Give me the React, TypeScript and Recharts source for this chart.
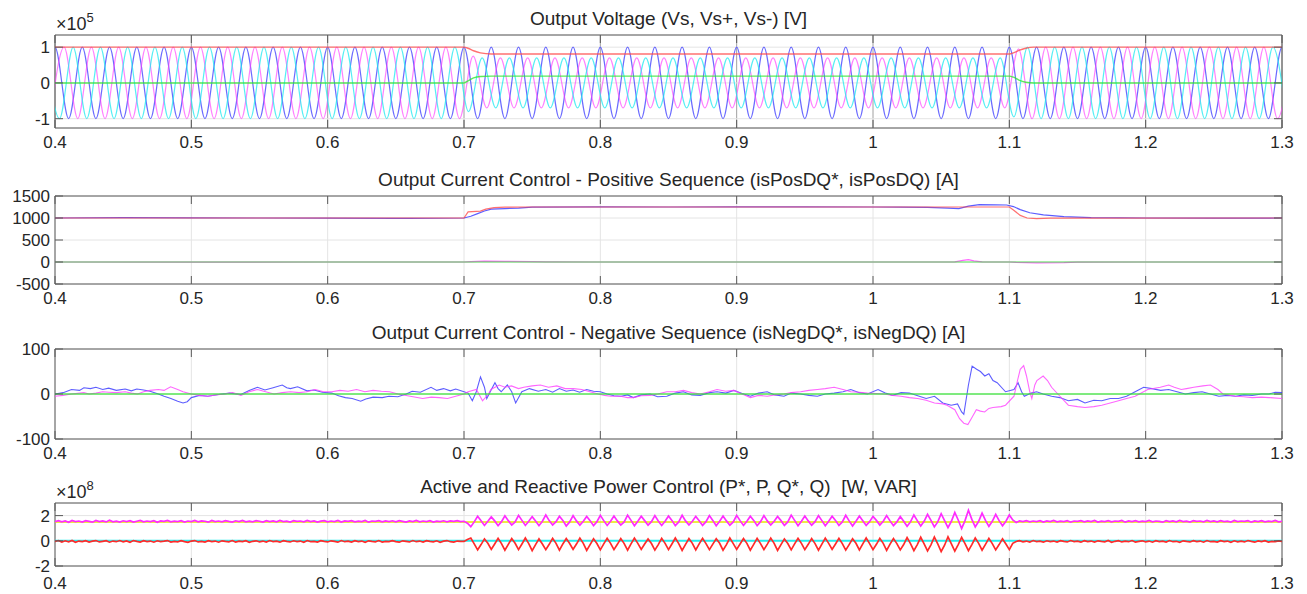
import { LineChart, Line, XAxis, YAxis, CartesianGrid, ReferenceArea } from 'recharts';

// ---- shared axis values ----
const xTicks = [0.4, 0.5, 0.6, 0.7, 0.8, 0.9, 1, 1.1, 1.2, 1.3];
const vsTicks = [-1, 0, 1];
const posTicks = [-500, 0, 500, 1000, 1500];
const negTicks = [-100, 0, 100];
const pqTicks = [-2, 0, 2];

// ---- Output voltage (x1e5), extrema of each phase, one every half cycle ----
const halfCycle = 0.01;
const vsAStart = 0.39;
const vsBStart = 0.3967;
const vsCStart = 0.3933;
const vsA = [
  -1, 1, -1, 1, -1, 1, -1, 1, -1, 1,
  -1, 1, -1, 1, -1, 1, -1, 1, -1, 1,
  -1, 1, -1, 1, -1, 1, -1, 1, -1, 1,
  -1, 1, -1, 1, -1, 1, -1, 1, -1, 1,
  -1, 1, -1, 1, -1, 1, -1, 1, -1, 1,
  -1, 1, -1, 1, -1, 1, -1, 1, -1, 1,
  -1, 1, -1, 1, -1, 1, -1, 1, -1, 1,
  -1, 1, -1, 1, -1, 1, -1, 1, -1, 1,
  -1, 1, -1, 1, -1, 1, -1, 1, -1, 1,
  -1, 1, -1,
];
const vsB = [
  -1, 1, -1, 1, -1, 1, -1, 1, -1, 1,
  -1, 1, -1, 1, -1, 1, -1, 1, -1, 1,
  -1, 1, -1, 1, -1, 1, -1, 1, -1, 1,
  -1, 0.75, -0.7, 0.7, -0.7, 0.7, -0.7, 0.7, -0.7, 0.7,
  -0.7, 0.7, -0.7, 0.7, -0.7, 0.7, -0.7, 0.7, -0.7, 0.7,
  -0.7, 0.7, -0.7, 0.7, -0.7, 0.7, -0.7, 0.7, -0.7, 0.7,
  -0.7, 0.7, -0.7, 0.7, -0.7, 0.7, -0.7, 0.7, -0.7, 0.7,
  -0.7, 0.95, -1, 1, -1, 1, -1, 1, -1, 1,
  -1, 1, -1, 1, -1, 1, -1, 1, -1, 1,
  -1, 1,
];
const vsC = [
  1, -1, 1, -1, 1, -1, 1, -1, 1, -1,
  1, -1, 1, -1, 1, -1, 1, -1, 1, -1,
  1, -1, 1, -1, 1, -1, 1, -1, 1, -1,
  1, -0.8, 0.7, -0.7, 0.7, -0.7, 0.7, -0.7, 0.7, -0.7,
  0.7, -0.7, 0.7, -0.7, 0.7, -0.7, 0.7, -0.7, 0.7, -0.7,
  0.7, -0.7, 0.7, -0.7, 0.7, -0.7, 0.7, -0.7, 0.7, -0.7,
  0.7, -0.7, 0.7, -0.7, 0.7, -0.7, 0.7, -0.7, 0.7, -0.7,
  0.7, -0.95, 1, -1, 1, -1, 1, -1, 1, -1,
  1, -1, 1, -1, 1, -1, 1, -1, 1, -1,
  1, -1,
];
const vsSeqTimes = [0.4, 0.7, 0.703, 0.707, 0.712, 0.72, 1.1, 1.103, 1.107, 1.112, 1.118, 1.3];
const vsPos = [1, 1, 0.97, 0.9, 0.84, 0.81, 0.81, 0.84, 0.91, 0.97, 1, 1];
const vsNeg = [0, 0, 0.06, 0.14, 0.18, 0.19, 0.19, 0.16, 0.08, 0.02, 0, 0];

// ---- Positive sequence current [A] ----
const posRefDTimes = [0.4, 0.7, 0.703, 0.712, 0.716, 0.722, 0.73, 0.75, 1.1, 1.103, 1.108, 1.113, 1.12, 1.13, 1.3];
const posRefD = [1000, 1000, 1140, 1155, 1200, 1235, 1245, 1250, 1250, 1180, 1060, 1000, 985, 995, 1000];
const posDTimes = [
  0.4, 0.45, 0.5, 0.55, 0.6, 0.65, 0.66, 0.7, 0.705, 0.71, 0.715, 0.72, 0.73, 0.74, 0.75, 0.8, 0.85, 0.9,
  0.95, 1.0, 1.02, 1.04, 1.055, 1.063, 1.07, 1.078, 1.09, 1.098, 1.103, 1.108, 1.115, 1.125, 1.14, 1.16,
  1.2, 1.25, 1.3,
];
const posD = [
  1000, 1008, 1002, 1000, 997, 993, 990, 1000, 1040, 1100, 1160, 1200, 1215, 1225, 1245, 1252, 1250, 1255,
  1252, 1250, 1247, 1240, 1225, 1212, 1270, 1305, 1300, 1295, 1260, 1190, 1120, 1070, 1030, 1010,
  1000, 995, 1000,
];
const posQTimes = [
  0.4, 0.5, 0.6, 0.7, 0.705, 0.715, 0.73, 0.75, 0.76, 0.8, 1.0, 1.06, 1.066, 1.07, 1.074, 1.08, 1.1,
  1.105, 1.12, 1.14, 1.15, 1.2, 1.3,
];
const posQ = [0, -3, 0, 0, 10, 18, 15, 10, 3, 0, 0, 5, 35, 55, 25, 5, 0, -10, -20, -15, -5, 0, 0];
const posRefQTimes = [0.4, 1.3];
const posRefQ = [0, 0];

// ---- Negative sequence current [A], (time, value) ----
const negD: [number, number][] = [
  [0.4, 0], [0.406, 3], [0.4121, 10], [0.418, 8], [0.4212, 14], [0.426, 12], [0.43, 15], [0.435, 10],
  [0.4394, 13], [0.445, 8], [0.4515, 11], [0.456, 7], [0.46, 11], [0.465, 9], [0.4697, 6], [0.4758, 0],
  [0.48, -5], [0.485, -10], [0.49, -16], [0.4939, -20], [0.497, -17], [0.5, -8], [0.506, -3], [0.5121, -5],
  [0.52, -1], [0.528, 2], [0.5364, -1], [0.5424, 8], [0.5485, 15], [0.554, 9], [0.56, 14], [0.5667, 20],
  [0.57, 14], [0.5727, 12], [0.578, 16], [0.5848, 7], [0.59, 9], [0.596, 4], [0.603, 2], [0.608, -4],
  [0.613, -8], [0.618, -10], [0.6242, -16], [0.628, -11], [0.6333, -7], [0.64, -8], [0.645, -5], [0.6515, -6],
  [0.6576, 0], [0.662, 6], [0.668, 4], [0.6758, 15], [0.68, 8], [0.685, 12], [0.69, 7], [0.6939, 11],
  [0.7, 5], [0.703, 2], [0.7061, -15], [0.709, 5], [0.7121, 38], [0.715, 15], [0.7167, -10], [0.7197, 8],
  [0.7227, 25], [0.725, 12], [0.7273, 5], [0.73, 14], [0.7318, 20], [0.735, 5], [0.7379, -20], [0.7424, 5],
  [0.748, 12], [0.7545, 6], [0.76, 10], [0.765, 4], [0.77, 12], [0.775, 6], [0.78, 9], [0.7848, 4],
  [0.79, 10], [0.795, 6], [0.8, 5], [0.805, 0], [0.81, -4], [0.8152, -5], [0.82, -2], [0.8242, -8],
  [0.83, -2], [0.8365, 0], [0.842, -6], [0.8488, -5], [0.855, 2], [0.861, 5], [0.867, -2], [0.8733, -3],
  [0.88, 3], [0.8856, 5], [0.892, 2], [0.8979, 8], [0.904, 1], [0.9101, -5], [0.916, 2], [0.9224, 5],
  [0.928, -2], [0.9347, -5], [0.94, 2], [0.9469, 0], [0.953, -3], [0.9592, -5], [0.965, 0], [0.9715, 2],
  [0.978, 5], [0.9837, 10], [0.99, 3], [0.996, 0], [1.0037, 10], [1.009, 2], [1.0144, -3], [1.0206, 3],
  [1.0267, 2], [1.0328, -4], [1.039, -10], [1.0451, -5], [1.0512, -20], [1.0574, -25], [1.062, -22], [1.065, -40],
  [1.0666, -45], [1.07, 20], [1.0727, 62], [1.076, 55], [1.0788, 50], [1.082, 40], [1.085, 45], [1.088, 30],
  [1.0911, 25], [1.0972, 5], [1.1034, 10], [1.1064, 25], [1.109, 5], [1.111, -5], [1.116, 2], [1.12, 5],
  [1.1248, 0], [1.131, -5], [1.137, -8], [1.1433, -15], [1.15, -12], [1.1555, -20], [1.162, -14], [1.1678, -15],
  [1.174, -10], [1.1801, -10], [1.186, -5], [1.1923, 5], [1.1985, 15], [1.2046, 12], [1.211, 8], [1.2169, 10],
  [1.223, 5], [1.2291, 0], [1.2353, 3], [1.2414, 5], [1.2475, 0], [1.2537, -5], [1.26, -3], [1.266, -5],
  [1.272, -2], [1.2782, -3], [1.285, 0], [1.2905, 0], [1.295, 4], [1.3, 3],
];
const negQ: [number, number][] = [
  [0.4, -5], [0.406, -3], [0.4121, 0], [0.418, 2], [0.4212, 3], [0.425, 0], [0.43, 2], [0.435, 5],
  [0.4394, 4], [0.445, 3], [0.4515, 5], [0.456, 2], [0.4606, 0], [0.465, 5], [0.4697, 8], [0.4758, 10],
  [0.48, 8], [0.4848, 16], [0.49, 10], [0.4939, 5], [0.5, 0], [0.506, -3], [0.5121, -5], [0.518, -2],
  [0.5242, 0], [0.5303, 3], [0.5364, -3], [0.5424, 5], [0.5485, 10], [0.5545, 5], [0.5606, 0], [0.5667, 3],
  [0.5727, 5], [0.579, 3], [0.5848, 5], [0.5909, 10], [0.597, 5], [0.603, 5], [0.609, 8], [0.615, 6],
  [0.6212, 10], [0.6273, 5], [0.6333, 8], [0.6394, 6], [0.6455, 5], [0.6515, 0], [0.6606, -5], [0.6697, -10],
  [0.676, -7], [0.6818, -8], [0.6879, -10], [0.6939, -5], [0.7, 0], [0.703, 5], [0.7091, 10], [0.7136, -15],
  [0.718, 0], [0.7197, 10], [0.7258, 20], [0.73, 15], [0.7348, 18], [0.74, 12], [0.7439, 15], [0.75, 18],
  [0.756, 20], [0.762, 15], [0.7681, 18], [0.7742, 12], [0.7803, 12], [0.7864, 10], [0.7924, 5], [0.7985, 0],
  [0.803, -3], [0.8076, -5], [0.815, -5], [0.82, -8], [0.8242, -8], [0.83, -4], [0.8365, -3], [0.842, 0],
  [0.8488, 5], [0.855, 5], [0.861, 8], [0.867, 3], [0.8733, 0], [0.88, 5], [0.8856, 10], [0.892, 6],
  [0.8979, 8], [0.904, 0], [0.9101, -8], [0.916, -3], [0.9224, -5], [0.928, -2], [0.9347, 0], [0.94, 3],
  [0.9469, 5], [0.953, 8], [0.9592, 10], [0.965, 12], [0.9715, 15], [0.978, 10], [0.9837, 5], [0.99, 4],
  [0.996, 2], [1.0083, 0], [1.0144, -3], [1.0206, -5], [1.0267, -8], [1.0328, -10], [1.039, -14], [1.0451, -20],
  [1.0512, -22], [1.0543, -25], [1.06, -35], [1.0635, -55], [1.0666, -65], [1.0696, -68], [1.073, -50], [1.0758, -35],
  [1.0788, -38], [1.0819, -40], [1.085, -32], [1.088, -30], [1.094, -28], [1.0972, -25], [1.1034, -5], [1.106, 30],
  [1.108, 55], [1.1105, 63], [1.1126, 40], [1.115, 5], [1.1165, -10], [1.1187, 20], [1.1202, 30], [1.1248, 40],
  [1.128, 30], [1.131, 15], [1.1371, -5], [1.1433, -25], [1.15, -28], [1.1555, -30], [1.162, -28], [1.1678, -25],
  [1.174, -20], [1.1801, -15], [1.186, -10], [1.1923, -5], [1.2015, 10], [1.2107, 15], [1.2169, 20], [1.221, 15],
  [1.2261, 10], [1.23, 12], [1.2353, 15], [1.242, 18], [1.2475, 20], [1.253, 10], [1.2567, 0], [1.266, -5],
  [1.272, -6], [1.2782, -8], [1.285, -7], [1.2905, -8], [1.3, -10],
];
const negRefTimes = [0.4, 1.3];
const negRef = [0, 0];

// ---- Active / reactive power (x1e8), sampled every 2.5 ms ----
const pqStep = 0.0025;
const pMeas = [
  1.52, 1.6, 1.5, 1.58, 1.47, 1.62, 1.53, 1.57, 1.49, 1.6, 1.54, 1.48, 1.61, 1.52, 1.58, 1.5, 1.63, 1.51, 1.56, 1.49,
  1.59, 1.52, 1.6, 1.48, 1.55, 1.62, 1.5, 1.57, 1.53, 1.6, 1.47, 1.58, 1.54, 1.61, 1.5, 1.56, 1.52, 1.6, 1.49, 1.57,
  1.53, 1.61, 1.5, 1.58, 1.55, 1.48, 1.62, 1.52, 1.57, 1.5, 1.6, 1.54, 1.49, 1.59, 1.53, 1.61, 1.51, 1.56, 1.5, 1.6,
  1.55, 1.48, 1.6, 1.53, 1.58, 1.5, 1.62, 1.52, 1.56, 1.49, 1.6, 1.54, 1.57, 1.5, 1.61, 1.52, 1.58, 1.48, 1.56, 1.6,
  1.51, 1.57, 1.53, 1.62, 1.49, 1.58, 1.54, 1.6, 1.5, 1.56, 1.52, 1.61, 1.48, 1.57, 1.55, 1.6, 1.5, 1.58, 1.53, 1.59,
  1.5, 1.6, 1.54, 1.48, 1.58, 1.52, 1.62, 1.5, 1.57, 1.53, 1.6, 1.49, 1.56, 1.52, 1.59, 1.5, 1.58, 1.54, 1.6, 1.52,
  1.55, 1.4, 1.12, 1.5, 1.95, 1.6, 1.22, 1.55, 1.9, 1.58, 1.2, 1.52, 1.98, 1.6, 1.25, 1.5, 2.02, 1.62, 1.22, 1.55,
  1.92, 1.58, 1.2, 1.55, 2.05, 1.6, 1.25, 1.52, 1.95, 1.62, 1.18, 1.5, 2.0, 1.58, 1.24, 1.55, 1.93, 1.6, 1.2, 1.52,
  2.02, 1.6, 1.22, 1.55, 1.96, 1.58, 1.25, 1.5, 2.04, 1.62, 1.2, 1.55, 1.95, 1.6, 1.24, 1.52, 2.0, 1.58, 1.22, 1.55,
  1.97, 1.62, 1.2, 1.5, 2.03, 1.58, 1.25, 1.55, 1.94, 1.6, 1.22, 1.52, 2.0, 1.62, 1.2, 1.55, 1.96, 1.58, 1.24, 1.5,
  2.02, 1.6, 1.22, 1.55, 1.95, 1.62, 1.2, 1.52, 2.0, 1.58, 1.25, 1.55, 1.93, 1.6, 1.22, 1.5, 2.04, 1.62, 1.2, 1.55,
  1.96, 1.58, 1.24, 1.52, 2.0, 1.6, 1.2, 1.55, 1.95, 1.62, 1.22, 1.5, 2.02, 1.58, 1.18, 1.55, 1.97, 1.6, 1.22, 1.52,
  1.94, 1.62, 1.25, 1.55, 2.0, 1.58, 1.2, 1.5, 1.92, 1.55, 1.15, 1.5, 2.05, 1.6, 1.18, 1.55, 2.1, 1.62, 1.1, 1.5,
  2.15, 1.6, 1.05, 1.55, 2.25, 1.65, 0.98, 1.6, 2.42, 1.7, 1.1, 1.55, 2.2, 1.62, 1.15, 1.55, 2.1, 1.6, 1.2, 1.55,
  2.05, 1.65, 1.45, 1.58, 1.52, 1.6, 1.5, 1.57, 1.53, 1.6, 1.49, 1.58, 1.52, 1.61, 1.5, 1.56, 1.53, 1.6, 1.48, 1.57,
  1.54, 1.6, 1.5, 1.58, 1.52, 1.62, 1.49, 1.56, 1.53, 1.6, 1.5, 1.57, 1.54, 1.61, 1.48, 1.58, 1.52, 1.6, 1.5, 1.56,
  1.53, 1.61, 1.5, 1.57, 1.54, 1.48, 1.6, 1.52, 1.58, 1.5, 1.62, 1.53, 1.56, 1.49, 1.6, 1.54, 1.57, 1.5, 1.61, 1.52,
  1.58, 1.5, 1.6, 1.53, 1.56, 1.49, 1.62, 1.52, 1.57, 1.54, 1.6, 1.48, 1.58, 1.53, 1.6, 1.5, 1.56, 1.52, 1.61, 1.5,
  1.55,
];
const qMeas = [
  -0.05, 0.02, -0.1, 0, -0.08, 0.03, -0.12, -0.02, -0.06, 0.01, -0.1, -0.03, 0.02, -0.09, -0.04, 0.01, -0.11, -0.02, -0.07, 0.02,
  -0.08, -0.01, -0.12, 0.02, -0.05, -0.1, 0.01, -0.06, -0.02, -0.11, 0, -0.07, -0.03, 0.02, -0.1, -0.04, -0.08, 0.01, -0.06, -0.12,
  -0.02, 0.02, -0.09, -0.04, -0.1, 0.01, -0.06, -0.02, -0.11, 0, -0.05, -0.08, 0.02, -0.1, -0.03, -0.07, 0.01, -0.12, -0.04, 0,
  -0.08, -0.02, -0.1, 0.02, -0.06, -0.03, -0.11, 0.01, -0.05, -0.09, 0, -0.07, -0.02, -0.12, 0.02, -0.06, -0.04, -0.1, 0.01, -0.05,
  -0.09, 0, -0.04, -0.11, 0.02, -0.07, -0.03, -0.1, 0.01, -0.06, -0.02, -0.12, 0, -0.05, -0.08, 0.02, -0.1, -0.04, -0.07, 0.01,
  -0.06, -0.11, 0, -0.04, -0.09, 0.02, -0.07, -0.02, -0.1, 0.01, -0.05, -0.08, 0, -0.12, -0.03, 0.02, -0.07, -0.1, -0.02, -0.05,
  -0.05, 0.1, 0.22, -0.25, -0.72, -0.3, 0.15, -0.2, -0.68, -0.25, 0.2, -0.22, -0.75, -0.28, 0.18, -0.2, -0.7, -0.25, 0.22, -0.22,
  -0.78, -0.3, 0.15, -0.25, -0.7, -0.28, 0.2, -0.2, -0.74, -0.25, 0.18, -0.22, -0.68, -0.26, 0.22, -0.2, -0.76, -0.3, 0.16, -0.22,
  -0.72, -0.25, 0.2, -0.2, -0.7, -0.28, 0.18, -0.22, -0.75, -0.25, 0.22, -0.2, -0.68, -0.26, 0.15, -0.22, -0.74, -0.3, 0.2, -0.2,
  -0.7, -0.25, 0.22, -0.22, -0.76, -0.28, 0.18, -0.2, -0.72, -0.25, 0.2, -0.22, -0.7, -0.26, 0.16, -0.2, -0.75, -0.3, 0.22, -0.22,
  -0.68, -0.25, 0.18, -0.2, -0.74, -0.28, 0.2, -0.22, -0.7, -0.26, 0.22, -0.2, -0.76, -0.3, 0.15, -0.22, -0.72, -0.25, 0.2, -0.2,
  -0.7, -0.28, 0.18, -0.22, -0.75, -0.26, 0.22, -0.2, -0.68, -0.25, 0.2, -0.22, -0.74, -0.3, 0.16, -0.2, -0.72, -0.25, 0.22, -0.22,
  -0.7, -0.28, 0.2, -0.2, -0.76, -0.26, 0.18, -0.22, -0.72, -0.3, 0.25, -0.22, -0.78, -0.3, 0.28, -0.25, -0.8, -0.32, 0.3, -0.25,
  -0.85, -0.35, 0.32, -0.25, -0.82, -0.3, 0.28, -0.22, -0.78, -0.3, 0.22, -0.2, -0.74, -0.28, 0.2, -0.22, -0.72, -0.3, 0.15, -0.25,
  -0.7, -0.2, -0.05, 0.01, -0.08, -0.02, -0.1, 0.02, -0.06, -0.03, -0.11, 0, -0.07, -0.02, -0.1, 0.01, -0.05, -0.09, 0.02, -0.06,
  -0.03, -0.11, 0.01, -0.07, -0.02, -0.1, 0, -0.05, -0.08, 0.02, -0.12, -0.04, 0.01, -0.09, -0.03, -0.07, 0.02, -0.1, -0.05, 0,
  -0.08, -0.02, -0.11, 0.01, -0.06, -0.03, -0.1, 0.02, -0.07, -0.04, -0.12, 0, -0.05, -0.09, 0.01, -0.06, -0.02, -0.11, 0.02, -0.07,
  -0.04, -0.1, 0.01, -0.06, -0.02, -0.12, 0, -0.08, -0.03, -0.09, 0.02, -0.05, -0.11, -0.01, -0.07, 0.01, -0.1, -0.04, -0.06, 0,
  -0.05,
];
const pqRefTimes = [0.4, 1.3];
const pRef = [1.5, 1.5];
const qRef = [0, 0];

// ---- helpers ----
type Pt = { t: number; v: number };
const stepped = (t0: number, step: number, vals: number[]): Pt[] => vals.map((v, i) => ({ t: t0 + i * step, v }));
const zipped = (ts: number[], vals: number[]): Pt[] => vals.map((v, i) => ({ t: ts[i], v }));
const paired = (pairs: [number, number][]): Pt[] => pairs.map(([t, v]) => ({ t, v }));

const W = 1307;
const PLOT_LEFT = 55;
const PLOT_RIGHT = 1282;
const FONT = '"Liberation Sans", Arial, Helvetica, sans-serif';
const TEXT = '#262626';
const AXIS = '#5a5a5a';
const GRID = '#e4e4e4';

function XTick(props: any) {
  const { x, y, payload, plotH, labelOffset } = props;
  return (
    <g>
      <line x1={x} x2={x} y1={y} y2={y - 8} stroke={AXIS} />
      <line x1={x} x2={x} y1={y - plotH} y2={y - plotH + 8} stroke={AXIS} />
      <text x={x} y={y + labelOffset} textAnchor="middle" fontSize={17} fontFamily={FONT} fill={TEXT}>
        {String(payload.value)}
      </text>
    </g>
  );
}

function YTick(props: any) {
  const { x, y, payload, plotW } = props;
  return (
    <g>
      <line x1={x} x2={x + 8} y1={y} y2={y} stroke={AXIS} />
      <line x1={x + plotW} x2={x + plotW - 8} y1={y} y2={y} stroke={AXIS} />
      <text x={x - 5} y={y} dy="0.36em" textAnchor="end" fontSize={17} fontFamily={FONT} fill={TEXT}>
        {String(payload.value)}
      </text>
    </g>
  );
}

interface PanelProps {
  top: number;
  height: number;
  plotTop: number;
  plotBottom: number;
  yDomain: [number, number];
  yTicks: number[];
  title: string;
  exponent?: string;
  vGridColor?: string;
  labelOffset?: number;
  children: any;
}

function Panel({ top, height, plotTop, plotBottom, yDomain, yTicks, title, exponent, vGridColor, labelOffset = 20, children }: PanelProps) {
  const plotH = plotBottom - plotTop;
  const plotW = PLOT_RIGHT - PLOT_LEFT;
  return (
    <>
      <div
        style={{
          position: 'absolute', left: PLOT_LEFT, width: plotW, top: plotTop - 27, height: 22,
          lineHeight: '22px', textAlign: 'center', fontSize: 19, fontFamily: FONT, color: TEXT, whiteSpace: 'pre',
        }}
      >
        {title}
      </div>
      {exponent && (
        <div
          style={{
            position: 'absolute', left: 56, top: plotTop - 20, height: 18, lineHeight: '18px',
            fontSize: 18, fontFamily: FONT, color: TEXT, whiteSpace: 'pre',
          }}
        >
          ×10<span style={{ fontSize: 13, position: 'relative', top: -8 }}>{exponent}</span>
        </div>
      )}
      <div style={{ position: 'absolute', left: 0, top, width: W, height }}>
        <LineChart
          width={W}
          height={height}
          margin={{ top: plotTop - top, right: W - PLOT_RIGHT, bottom: 0, left: 0 }}
        >
          <CartesianGrid horizontal={false} stroke={vGridColor || GRID} />
          <CartesianGrid vertical={false} stroke={GRID} />
          <XAxis
            type="number"
            dataKey="t"
            domain={[0.4, 1.3]}
            ticks={xTicks}
            allowDataOverflow
            interval={0}
            height={top + height - plotBottom}
            tickSize={0}
            tickMargin={0}
            axisLine={false}
            tickLine={false}
            tick={<XTick plotH={plotH} labelOffset={labelOffset} />}
          />
          <YAxis
            type="number"
            dataKey="v"
            domain={yDomain}
            ticks={yTicks}
            allowDataOverflow
            interval={0}
            width={PLOT_LEFT}
            tickSize={0}
            tickMargin={0}
            axisLine={false}
            tickLine={false}
            tick={<YTick plotW={plotW} />}
          />
          {children}
          <ReferenceArea x1={0.4} x2={1.3} y1={yDomain[0]} y2={yDomain[1]} fill="none" stroke={AXIS} strokeWidth={1} />
        </LineChart>
      </div>
    </>
  );
}

const lineBase = { dataKey: 'v', dot: false, activeDot: false, isAnimationActive: false } as const;

export default function App() {
  return (
    <div style={{ position: 'absolute', left: 0, top: 0, width: W, height: 594, background: '#fff', overflow: 'hidden' }}>
      <Panel
        top={0} height={160} plotTop={35} plotBottom={128}
        yDomain={[-1.26, 1.34]} yTicks={vsTicks}
        title="Output Voltage (Vs, Vs+, Vs-) [V]" exponent="5" vGridColor="#a0a0a0"
      >
        <Line {...lineBase} data={stepped(vsAStart, halfCycle, vsA)} type="monotone" stroke="#3a3aff" strokeOpacity={0.75} strokeWidth={1.2} />
        <Line {...lineBase} data={stepped(vsBStart, halfCycle, vsB)} type="monotone" stroke="#ff3dff" strokeOpacity={0.65} strokeWidth={1.2} />
        <Line {...lineBase} data={stepped(vsCStart, halfCycle, vsC)} type="monotone" stroke="#1ee8f0" strokeOpacity={0.75} strokeWidth={1.2} />
        <Line {...lineBase} data={zipped(vsSeqTimes, vsPos)} type="monotone" stroke="#ff4d4d" strokeOpacity={0.8} strokeWidth={1.4} />
        <Line {...lineBase} data={zipped(vsSeqTimes, vsNeg)} type="monotone" stroke="#33e633" strokeOpacity={0.8} strokeWidth={1.4} />
      </Panel>

      <Panel
        top={160} height={150} plotTop={196} plotBottom={284}
        yDomain={[-500, 1500]} yTicks={posTicks}
        title="Output Current Control - Positive Sequence (isPosDQ*, isPosDQ) [A]"
      >
        <Line {...lineBase} data={zipped(posDTimes, posD)} type="linear" stroke="#3535ff" strokeOpacity={0.8} strokeWidth={1.2} />
        <Line {...lineBase} data={zipped(posRefDTimes, posRefD)} type="linear" stroke="#ff4040" strokeOpacity={0.75} strokeWidth={1.2} />
        <Line {...lineBase} data={zipped(posQTimes, posQ)} type="linear" stroke="#ff40ff" strokeOpacity={0.8} strokeWidth={1.2} />
        <Line {...lineBase} data={zipped(posRefQTimes, posRefQ)} type="linear" stroke="#33e633" strokeOpacity={0.8} strokeWidth={1.2} />
      </Panel>

      <Panel
        top={310} height={155} plotTop={349} plotBottom={439}
        yDomain={[-100, 100]} yTicks={negTicks}
        title="Output Current Control - Negative Sequence (isNegDQ*, isNegDQ) [A]"
      >
        <Line {...lineBase} data={paired(negD)} type="linear" stroke="#3535ff" strokeOpacity={0.8} strokeWidth={1.1} />
        <Line {...lineBase} data={paired(negQ)} type="linear" stroke="#ff40ff" strokeOpacity={0.8} strokeWidth={1.1} />
        <Line {...lineBase} data={zipped(negRefTimes, negRef)} type="linear" stroke="#33e633" strokeOpacity={0.8} strokeWidth={1.4} />
      </Panel>

      <Panel
        top={465} height={129} plotTop={503} plotBottom={566}
        yDomain={[-2, 3]} yTicks={pqTicks} labelOffset={23}
        title="Active and Reactive Power Control (P*, P, Q*, Q)  [W, VAR]" exponent="8"
      >
        <Line {...lineBase} data={zipped(pqRefTimes, pRef)} type="linear" stroke="#e6e600" strokeWidth={1.5} />
        <Line {...lineBase} data={stepped(0.4, pqStep, pMeas)} type="linear" stroke="#ff2bff" strokeWidth={1.7} />
        <Line {...lineBase} data={zipped(pqRefTimes, qRef)} type="linear" stroke="#22f0f0" strokeWidth={2} />
        <Line {...lineBase} data={stepped(0.4, pqStep, qMeas)} type="linear" stroke="#ff2a2a" strokeWidth={1.7} />
      </Panel>
    </div>
  );
}
